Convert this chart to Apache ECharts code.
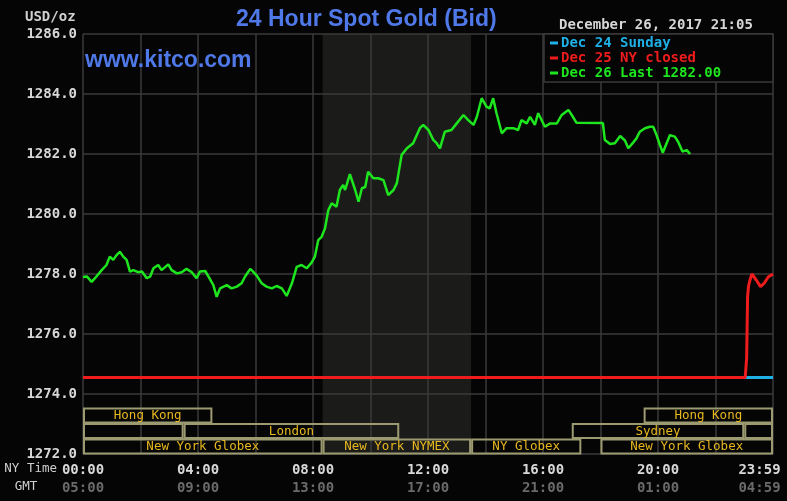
<!DOCTYPE html>
<html><head><meta charset="utf-8">
<script src="https://cdn.jsdelivr.net/npm/echarts@6/dist/echarts.min.js"></script>
<style>html,body{margin:0;padding:0;background:#050505;overflow:hidden;width:787px;height:501px;}#c{width:787px;height:501px;}</style>
</head><body><div id="c"></div>
<script>
// ---- data ----
const greenMinutes = [0,8,18,25,39,49,56,63,70,77,84,91,98,105,115,123,133,140,147,157,164,178,185,196,206,216,227,237,244,255,262,272,279,286,300,310,321,331,338,349,355,363,373,383,394,404,415,425,436,446,456,467,477,484,491,498,505,512,519,529,536,543,547,557,561,568,575,582,589,595,606,616,627,637,648,655,665,676,689,703,710,721,731,738,745,755,769,780,794,804,815,822,832,842,849,856,863,874,884,898,908,915,926,933,943,950,964,975,989,999,1013,1020,1030,1085,1089,1100,1110,1121,1131,1138,1148,1155,1162,1173,1183,1190,1197,1204,1210,1218,1225,1235,1242,1251,1260,1267];
const greenValues = [1277.90,1277.92,1277.74,1277.86,1278.13,1278.30,1278.58,1278.47,1278.63,1278.74,1278.58,1278.47,1278.08,1278.13,1278.06,1278.08,1277.86,1277.91,1278.19,1278.30,1278.13,1278.32,1278.13,1278.02,1278.06,1278.17,1278.06,1277.86,1278.08,1278.10,1277.91,1277.63,1277.24,1277.52,1277.63,1277.52,1277.58,1277.69,1277.91,1278.17,1278.08,1277.94,1277.69,1277.58,1277.52,1277.60,1277.52,1277.27,1277.69,1278.24,1278.30,1278.19,1278.38,1278.58,1279.13,1279.24,1279.52,1280.13,1280.36,1280.24,1280.80,1280.97,1280.80,1281.33,1281.30,1280.80,1280.41,1280.86,1280.90,1281.41,1281.19,1281.19,1281.13,1280.63,1280.80,1281.03,1281.97,1282.19,1282.36,1282.86,1282.97,1282.80,1282.47,1282.36,1282.19,1282.74,1282.80,1283.02,1283.30,1283.13,1282.97,1283.24,1283.86,1283.58,1283.52,1283.86,1283.36,1282.69,1282.86,1282.86,1282.80,1283.13,1283.02,1283.24,1282.97,1283.36,1282.91,1283.02,1283.02,1283.30,1283.47,1283.30,1283.04,1283.03,1282.47,1282.33,1282.36,1282.60,1282.45,1282.19,1282.38,1282.52,1282.74,1282.86,1282.91,1282.91,1282.63,1282.30,1282.04,1282.36,1282.63,1282.58,1282.41,1282.08,1282.13,1282.00];

const redMinutes = [0,1382,1384,1385,1387,1389,1392,1396,1405,1414,1422,1430,1440];
const redValues  = [1274.55,1274.55,1274.60,1275.20,1277.25,1277.60,1277.80,1278.00,1277.80,1277.58,1277.70,1277.90,1278.00];

const cyanMinutes = [1383,1440];
const cyanValues  = [1274.55,1274.55];

const comexStart = [500];
const comexEnd   = [810];

const sessionNames = ['Hong Kong','','London','New York Globex','New York NYMEX','NY Globex','Sydney','','New York Globex','Hong Kong'];
const sessionStart = [0,0,210,0,500,810,1020,1380,1080,1170];
const sessionEnd   = [270,210,660,500,810,1040,1380,1440,1440,1440];
const sessionRow   = [0,1,1,2,2,2,1,1,2,0];

const nyTickLabels  = ['00:00','04:00','08:00','12:00','16:00','20:00','23:59'];
const gmtTickLabels = ['05:00','09:00','13:00','17:00','21:00','01:00','04:59'];

const seriesNames = ['Dec 24 Sunday','Dec 25 NY closed','Dec 26 Last ' + greenValues[greenValues.length-1].toFixed(2)];
const seriesColors = ['#1fb0e6','#ee1c1c','#1ee61e'];

// ---- chart ----
const MONO = '"DejaVu Sans Mono", "Liberation Mono", monospace';
const chart = echarts.init(document.getElementById('c'), null, {renderer:'canvas', width:787, height:501});

const pairs = (xs, ys) => xs.map((x,i)=>[x, ys[i]]);
const tickA = {color:'#d8d8d8', fontFamily:MONO, fontSize:14, fontWeight:'bold', lineHeight:18};
const tickB = {color:'#6a6a6a', fontFamily:MONO, fontSize:14, fontWeight:'bold', lineHeight:18};

const option = {
  backgroundColor:'#050505',
  animation:false,
  title:{
    text:'24 Hour Spot Gold (Bid)', left:236, top:8, padding:0,
    textStyle:{color:'#4f78e8', fontFamily:'"Liberation Sans", Arial, sans-serif', fontSize:23, fontWeight:'bold'}
  },
  grid:{left:83, right:14, top:34, bottom:47, containLabel:false, outerBoundsMode:'none'},
  legend:{
    left:550, top:36, orient:'vertical', itemWidth:8, itemHeight:3, itemGap:1, icon:'rect',
    selectedMode:false, z:20, padding:0,
    textStyle:{fontFamily:MONO, fontSize:14, fontWeight:'bold', lineHeight:14, padding:[0,0,0,-2]},
    data: seriesNames.map((n,i)=>({name:n, textStyle:{color:seriesColors[i]}}))
  },
  xAxis:{
    type:'value', min:0, max:1440, interval:120,
    axisLine:{show:false}, axisTick:{show:false},
    splitLine:{show:true, lineStyle:{color:'#3a3a3a', width:1.5}},
    axisLabel:{
      margin:7,
      formatter:function(v){
        if (v % 240 !== 0) return '';
        const i = v/240;
        const last = i === nyTickLabels.length - 1;
        return '{' + (last?'c':'a') + '|' + nyTickLabels[i] + '}\n{' + (last?'d':'b') + '|' + gmtTickLabels[i] + '}';
      },
      rich:{
        a:tickA, b:tickB,
        c:Object.assign({}, tickA, {padding:[0,27,0,0]}),
        d:Object.assign({}, tickB, {padding:[0,27,0,0]})
      }
    }
  },
  yAxis:{
    type:'value', min:1272, max:1286, interval:2,
    axisLine:{show:false}, axisTick:{show:false},
    splitLine:{show:true, lineStyle:{color:'#3a3a3a', width:1.5}},
    axisLabel:{margin:6, color:'#d8d8d8', fontFamily:MONO, fontSize:14, fontWeight:'bold',
      formatter:function(v){return v.toFixed(1);} }
  },
  graphic:[
    {type:'rect', z:10, shape:{x:544, y:34, width:229, height:48},
      style:{fill:'#050505', stroke:'#3a3a3a', lineWidth:1.5}},
    {type:'text', z:10, style:{text:'USD/oz', x:25, y:17, verticalAlign:'middle', fill:'#d0d0d0', font:'bold 14px ' + MONO}},
    {type:'text', z:10, style:{text:'December 26, 2017 21:05', x:559, y:25, verticalAlign:'middle', fill:'#d6d6d6', font:'bold 14px ' + MONO}},
    {type:'text', z:10, style:{text:'www.kitco.com', x:85, y:61, verticalAlign:'middle', fill:'#4f78e8', font:'bold 23px "Liberation Sans", Arial, sans-serif'}},
    {type:'text', z:10, style:{text:'NY Time', x:57, y:469, align:'right', verticalAlign:'middle', fill:'#cfcfcf', font:'12.5px ' + MONO}},
    {type:'text', z:10, style:{text:'GMT', x:26, y:487, align:'center', verticalAlign:'middle', fill:'#cfcfcf', font:'12.5px ' + MONO}}
  ],
  series:[
    {
      type:'custom', name:'comex', z:-1, silent:true,
      data: comexStart.map((s,i)=>[s, comexEnd[i]]),
      renderItem:function(params, api){
        const a = api.coord([api.value(0), 1286]);
        const b = api.coord([api.value(1), 1272]);
        return {type:'rect', shape:{x:a[0], y:a[1], width:b[0]-a[0], height:b[1]-a[1]}, style:{fill:'#1b1c1a'}};
      }
    },
    {
      type:'custom', name:'sessions', z:5, silent:true,
      data: sessionStart.map((s,i)=>[s, sessionEnd[i], sessionRow[i]]),
      renderItem:function(params, api){
        const s = api.value(0), e = api.value(1), row = api.value(2);
        const p0 = api.coord([s, 1272]);
        const p1 = api.coord([e, 1272]);
        const h = 15.5;
        const y = p0[1] - (3-row)*h;
        const name = sessionNames[params.dataIndex];
        return {type:'group', children:[
          {type:'rect', shape:{x:p0[0]+1, y:y+1, width:p1[0]-p0[0]-2, height:h-1.5},
            style:{fill:null, stroke:'#9c9a70', lineWidth:2}},
          {type:'text', style:{text:name, x:(p0[0]+p1[0])/2, y:y+h/2+0.5, align:'center', verticalAlign:'middle',
            fill:'#e8b820', font:'12.5px ' + MONO}}
        ]};
      }
    },
    {
      type:'line', name:seriesNames[0], data:pairs(cyanMinutes, cyanValues), showSymbol:false, z:6,
      lineStyle:{color:seriesColors[0], width:3}, itemStyle:{color:seriesColors[0]}
    },
    {
      type:'line', name:seriesNames[1], data:pairs(redMinutes, redValues), showSymbol:false, z:7,
      lineStyle:{color:seriesColors[1], width:3}, itemStyle:{color:seriesColors[1]}
    },
    {
      type:'line', name:seriesNames[2], data:pairs(greenMinutes, greenValues), showSymbol:false, z:8,
      lineStyle:{color:seriesColors[2], width:2.5}, itemStyle:{color:seriesColors[2]}
    }
  ]
};
chart.setOption(option);
</script>
</body></html>
